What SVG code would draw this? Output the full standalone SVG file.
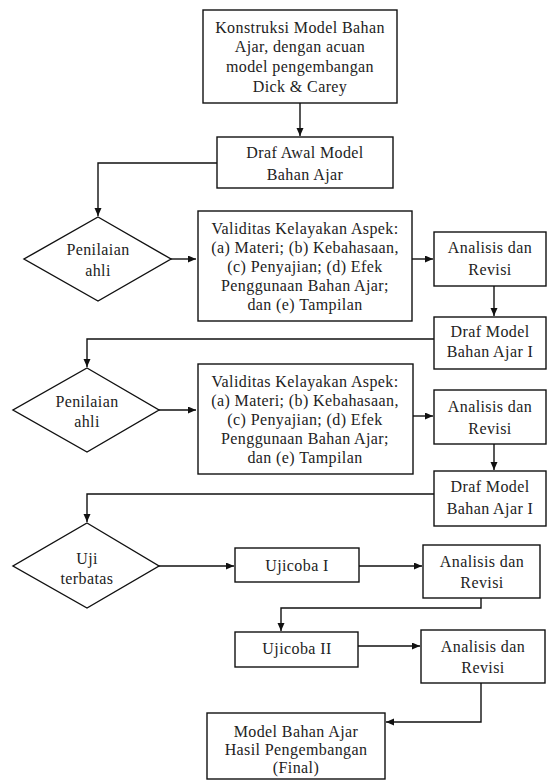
<svg xmlns="http://www.w3.org/2000/svg" width="547" height="781" viewBox="0 0 547 781">
<style>
.bx{fill:#fff;stroke:#111;stroke-width:1.4}
text{font-family:'Liberation Serif','DejaVu Serif',serif;font-size:16px;letter-spacing:0.4px;fill:#222;text-anchor:middle}
.c{fill:none;stroke:#111;stroke-width:1.4}
</style>
<defs>
<marker id="ah" markerUnits="userSpaceOnUse" markerWidth="9" markerHeight="8" refX="8" refY="3.5" orient="auto">
<path d="M0,0 L8,3.5 L0,7 z" fill="#111"/>
</marker>
</defs>
<rect width="547" height="781" fill="#fff"/>
<g id="connectors">
<path class="c" d="M300,103 V136" marker-end="url(#ah)"/>
<path class="c" d="M217,163 H98 V216" marker-end="url(#ah)"/>
<path class="c" d="M171,259 H196" marker-end="url(#ah)"/>
<path class="c" d="M412,259 H433" marker-end="url(#ah)"/>
<path class="c" d="M494,286 V316" marker-end="url(#ah)"/>
<path class="c" d="M434,339 H87 V367" marker-end="url(#ah)"/>
<path class="c" d="M159,410 H196" marker-end="url(#ah)"/>
<path class="c" d="M413,416 H433" marker-end="url(#ah)"/>
<path class="c" d="M494,444 V470" marker-end="url(#ah)"/>
<path class="c" d="M434,494 H87 V522" marker-end="url(#ah)"/>
<path class="c" d="M159,566 H234" marker-end="url(#ah)"/>
<path class="c" d="M359,566 H422" marker-end="url(#ah)"/>
<path class="c" d="M481,598 V608 H281 V631" marker-end="url(#ah)"/>
<path class="c" d="M358,646 H420" marker-end="url(#ah)"/>
<path class="c" d="M481,683 V722 H386" marker-end="url(#ah)"/>
</g>
<g id="n1"><rect class="bx" x="203" y="10" width="194" height="93"/>
<text font-family="Liberation Serif" x="300" y="33">Konstruksi Model Bahan</text>
<text x="300" y="52">Ajar, dengan acuan</text>
<text x="300" y="72">model pengembangan</text>
<text x="300" y="92">Dick &amp; Carey</text></g>
<g id="n2"><rect class="bx" x="217" y="137" width="176" height="51"/>
<text x="305" y="158">Draf Awal Model</text>
<text x="305" y="180">Bahan Ajar</text></g>
<g id="d1"><polygon class="bx" points="98,217 171,259 98,301 24,259"/>
<text x="98" y="255">Penilaian</text>
<text x="98" y="276">ahli</text></g>
<g id="v1"><rect class="bx" x="198" y="211" width="214" height="110"/>
<text x="305" y="234">Validitas Kelayakan Aspek:</text>
<text x="305" y="253">(a) Materi; (b) Kebahasaan,</text>
<text x="305" y="272">(c) Penyajian; (d) Efek</text>
<text x="305" y="291">Penggunaan Bahan Ajar;</text>
<text x="305" y="310">dan (e) Tampilan</text></g>
<g id="a1"><rect class="bx" x="434" y="232" width="112" height="54"/>
<text x="490" y="253">Analisis dan</text>
<text x="490" y="275">Revisi</text></g>
<g id="dr1"><rect class="bx" x="434" y="317" width="112" height="52"/>
<text x="490" y="337">Draf Model</text>
<text x="490" y="357">Bahan Ajar I</text></g>
<g id="d2"><polygon class="bx" points="87,368 159,410 87,452 13,410"/>
<text x="87" y="407">Penilaian</text>
<text x="87" y="427">ahli</text></g>
<g id="v2"><rect class="bx" x="198" y="364" width="215" height="110"/>
<text x="305" y="387">Validitas Kelayakan Aspek:</text>
<text x="305" y="406">(a) Materi; (b) Kebahasaan,</text>
<text x="305" y="425">(c) Penyajian; (d) Efek</text>
<text x="305" y="444">Penggunaan Bahan Ajar;</text>
<text x="305" y="463">dan (e) Tampilan</text></g>
<g id="a2"><rect class="bx" x="434" y="390" width="112" height="54"/>
<text x="490" y="412">Analisis dan</text>
<text x="490" y="434">Revisi</text></g>
<g id="dr2"><rect class="bx" x="434" y="471" width="112" height="55"/>
<text x="490" y="492">Draf Model</text>
<text x="490" y="514">Bahan Ajar I</text></g>
<g id="d3"><polygon class="bx" points="87,523 159,566 87,608 13,566"/>
<text x="87" y="564">Uji</text>
<text x="87" y="584">terbatas</text></g>
<g id="u1"><rect class="bx" x="235" y="548" width="124" height="34"/>
<text x="297" y="571">Ujicoba I</text></g>
<g id="a3"><rect class="bx" x="423" y="545" width="117" height="53"/>
<text x="482" y="567">Analisis dan</text>
<text x="482" y="588">Revisi</text></g>
<g id="u2"><rect class="bx" x="235" y="632" width="123" height="35"/>
<text x="297" y="654">Ujicoba II</text></g>
<g id="a4"><rect class="bx" x="421" y="630" width="124" height="53"/>
<text x="483" y="652">Analisis dan</text>
<text x="483" y="673">Revisi</text></g>
<g id="fin"><rect class="bx" x="207" y="713" width="178" height="66"/>
<text x="296" y="737">Model Bahan Ajar</text>
<text x="296" y="755">Hasil Pengembangan</text>
<text x="296" y="773">(Final)</text></g>
</svg>
